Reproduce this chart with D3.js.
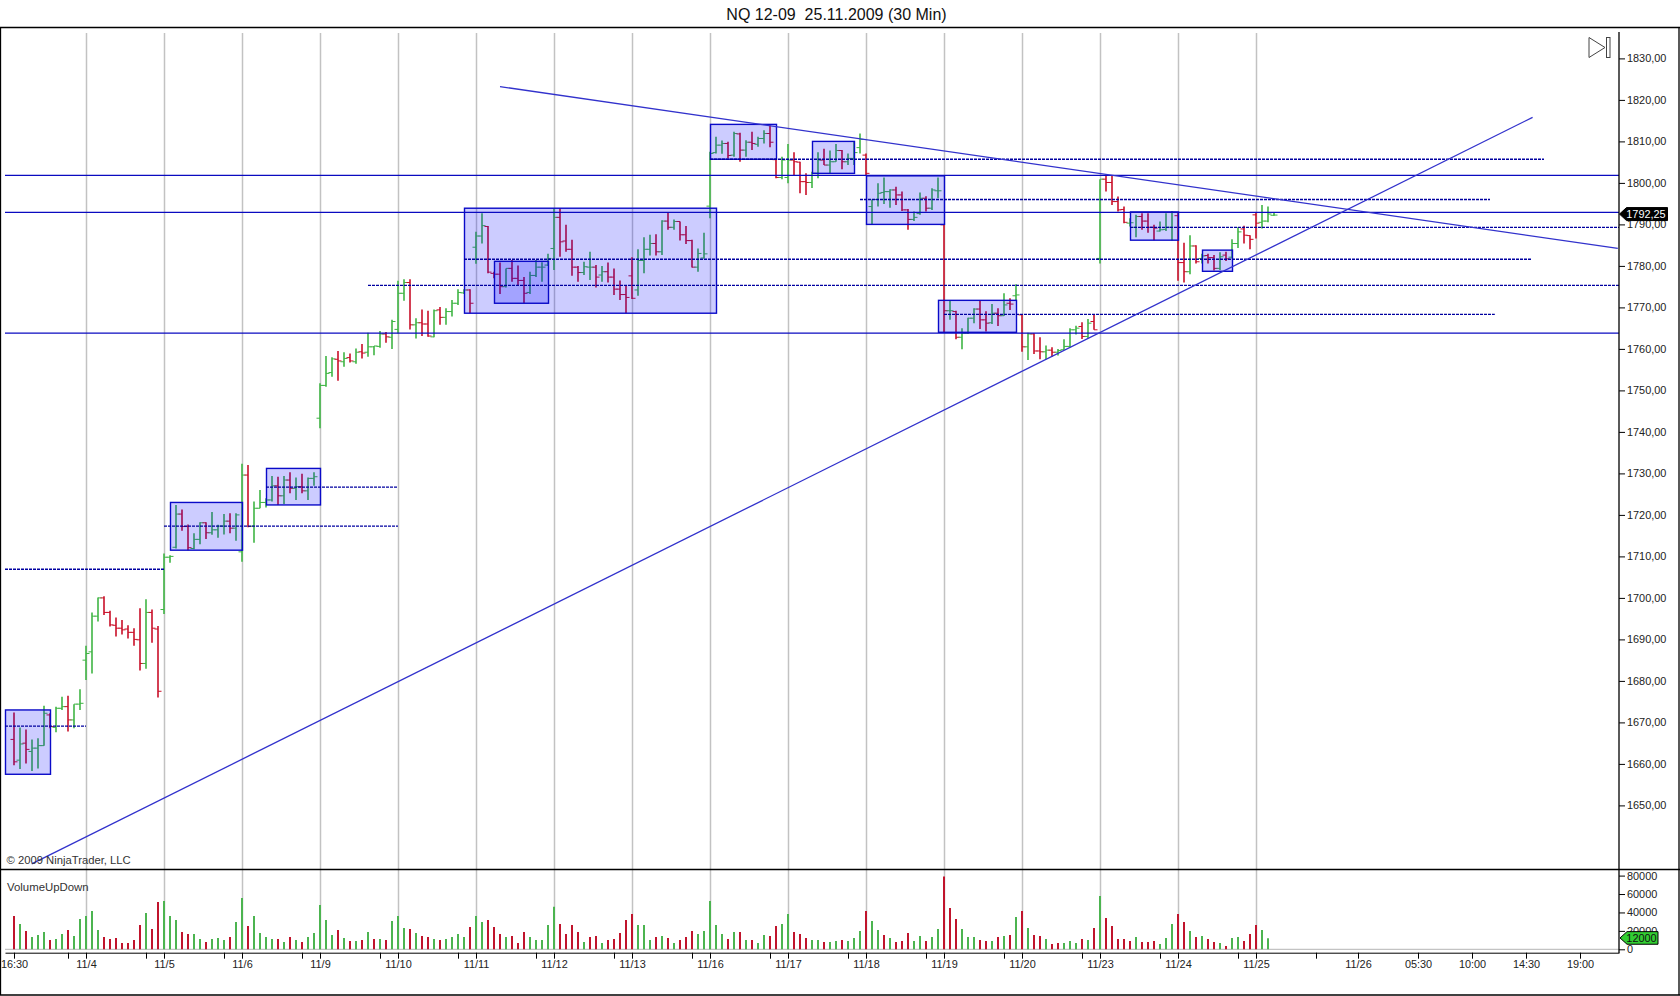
<!DOCTYPE html>
<html><head><meta charset="utf-8">
<script src="https://cdnjs.cloudflare.com/ajax/libs/d3/7.8.5/d3.min.js"></script>
<style>
html,body{margin:0;padding:0;background:#fff;overflow:hidden}
svg{display:block}
text{font-family:"Liberation Sans",Arial,sans-serif;fill:#222}
</style></head><body><div id="c"></div>
<script>
const title = "NQ 12-09  25.11.2009 (30 Min)";
const opens = [
1665.9,1660.9,1665,1663,1663.8,1664.4,1671.8,1668.8,1673.4,1673.8,1670.6,1674.4,1685,
1687,1695.6,1700,1696.5,1693.4,1692.7,1692.5,1691.7,1689.9,1684.2,1696.5,1692.5,1697.2,
1709.8,1712.2,1720.2,1717.2,1711.9,1714.1,1718.1,1715.7,1716.4,1717.3,1718.5,1716.8,1711.1,
1729.6,1717.3,1721.6,1723,1723.6,1727,1724.6,1728.4,1726.4,1726.8,1725.8,1728.8,1743.3,
1751.2,1754.3,1757.5,1756.9,1757.9,1756.9,1759.3,1759.2,1760.5,1760.6,1763.6,1762.8,1764.7,
1773.4,1776,1765.8,1766.3,1766,1762.9,1769.4,1767.6,1769,1771,1773.5,1774.2,1784.5,
1787.2,1789.5,1778.2,1778,1775,1779.4,1777,1776.5,1773.6,1777.7,1779.7,1780.2,1784.2,
1791.7,1786,1784,1779.7,1778.4,1779.7,1779.7,1777.8,1778.6,1777.3,1774.4,1773.1,1777.6,
1774.2,1781.3,1784,1785.4,1783.4,1790.8,1789.3,1790.7,1787.5,1786.1,1779.7,1781.9,1794.4,
1807.3,1809.1,1809.5,1806.7,1811.8,1807.9,1809.8,1809.3,1810.7,1811.9,1805.6,1801.3,1801.3,
1805.5,1805,1800.3,1800.1,1802.3,1805.5,1804.3,1805.1,1807.8,1805.1,1805.9,1808.5,1806.7,
1794.3,1796,1797.7,1797.9,1798.3,1797.1,1793.5,1791.2,1792.6,1796.3,1793.9,1798.1,1789.9,
1769.2,1769,1762.8,1763.8,1767.4,1769.6,1767,1766.3,1768.6,1768,1771,1772.8,1768.2,
1760.5,1763.6,1759.5,1759.3,1759.7,1759.2,1759.8,1760.6,1764.6,1765.4,1763,1766.6,1781.8,
1800.9,1800.1,1795.5,1793.6,1790.3,1789.3,1791.9,1790.8,1789.3,1788.4,1788.8,1789.3,1792.1,
1780.8,1778.6,1784.8,1781.8,1782.5,1782,1779.4,1782.6,1782.1,1785.4,1788.9,1787.3,1792.3,
1790.5,1790.8,1792.2];
const highs = [
1672.4,1668.8,1668.3,1665.9,1666.2,1674,1672.2,1673.8,1676.2,1676.4,1674.4,1678,1688.5,
1696.5,1700.1,1700.4,1696.9,1695.3,1694.7,1693.4,1692.7,1697.5,1699.7,1697.2,1693.2,1710.7,
1710.3,1722.4,1721.3,1717.7,1715.6,1718.2,1718.2,1720.7,1717.6,1720.2,1720.4,1720.4,1732.3,
1732,1723.2,1726,1724,1729.4,1729.2,1729.4,1730.3,1729,1729.9,1729,1730.3,1751.7,
1758.3,1758,1759.5,1759.2,1758.9,1760.1,1761.2,1763.9,1760.7,1764.3,1764.1,1767,1776.4,
1776.8,1776.8,1767.4,1769.5,1769.2,1769.5,1770.1,1769.8,1771.8,1774.4,1774.4,1774.4,1788.2,
1792.7,1789.6,1778.6,1780.8,1779.4,1781.4,1780.1,1777.3,1778.6,1781.4,1780.9,1782.9,1793.9,
1793.9,1789.9,1786.3,1780,1781,1783.4,1780.2,1780,1780.8,1779.4,1776.5,1775.4,1782.1,
1784,1786.9,1787.5,1787.6,1791,1792.8,1791.2,1790.7,1789.6,1786.3,1784.2,1788,1807.5,
1811.1,1810.2,1809.9,1812.3,1812.1,1810.3,1812.3,1811.1,1812.7,1813.9,1805.9,1806.3,1809.4,
1807.4,1805.1,1802.3,1802.7,1807.4,1808.2,1807.8,1809.4,1807.9,1807.1,1809.9,1811.9,1807.1,
1796,1799.9,1801.3,1798.5,1799.1,1797.9,1793.7,1793.1,1797.7,1796.8,1798.7,1801.3,1789.9,
1771.6,1769.2,1765,1767.5,1769.8,1771.6,1769.1,1770.8,1769.8,1773.4,1772.2,1775.6,1768.3,
1763.9,1763.8,1762.8,1760.8,1760.4,1760,1762.3,1765,1765.6,1766.4,1767.2,1768.3,1800.9,
1801.7,1801.7,1796.7,1794.3,1791.5,1792.3,1792.7,1792.7,1789.9,1790.7,1792.7,1793.2,1792.9,
1785.6,1787.4,1785,1782.9,1782.9,1782.6,1783.3,1783.4,1786.4,1789.3,1789.7,1787.4,1792.8,
1794.7,1794.3,1792.9];
const lows = [
1659.7,1658.8,1660.1,1658.3,1658.9,1664.4,1668.6,1667.6,1673,1667.8,1668.6,1673,1680.2,
1681.8,1694.3,1695.9,1693.1,1690.7,1691.2,1690.2,1688.5,1682.5,1682.9,1689.2,1676,1696.1,
1708.5,1711.9,1716.2,1711.5,1711.7,1712.9,1714.2,1715.2,1714.5,1715.3,1715.6,1713.8,1708.7,
1717,1713.3,1721.6,1721.8,1723.2,1722.4,1722.6,1725.2,1723.6,1725.2,1723.6,1727,1740.9,
1750.9,1753.3,1752.3,1755.7,1756.7,1756.4,1757.7,1758.1,1758.5,1760.3,1761.5,1760,1763.7,
1771.6,1764.7,1762.5,1763.1,1762.9,1762.8,1765.8,1765.8,1767.8,1770.6,1773.2,1768.6,1780.5,
1785.4,1778.2,1777,1773.2,1774.8,1776.2,1775.4,1771,1773.2,1777.3,1776.2,1780,1779,
1782.2,1783.4,1777.6,1776.2,1777.8,1776.6,1774.8,1776.2,1776,1773,1771.8,1768.6,1772,
1772.8,1778.2,1782.5,1782.5,1782.6,1788.7,1788.7,1786.1,1785.3,1779.6,1778.6,1781.8,1791.5,
1807.1,1807,1805.9,1806.3,1805.1,1806.3,1807.9,1808.7,1809.5,1808.6,1801.1,1800.9,1799.9,
1801.7,1797.5,1797.1,1798.8,1801.1,1804.3,1802.3,1805.1,1803.3,1804.3,1804.3,1807.1,1801.9,
1790.1,1794.3,1794.9,1794,1794.7,1793.2,1788.7,1790.8,1792.3,1793.1,1793.5,1796.3,1763.9,
1767,1762.3,1759.9,1763.6,1766.2,1764.8,1764.2,1766,1765.5,1767.9,1769.4,1771.8,1759.3,
1757.3,1758.8,1757.5,1757.5,1758.1,1758.4,1759.8,1760.4,1763.5,1762.4,1762.6,1764.6,1780.6,
1797.9,1794.7,1793.1,1790.3,1789.5,1786.9,1788.7,1788,1786.2,1788.3,1788.4,1786.1,1776.4,
1776,1778,1780.6,1780.6,1780.6,1778.9,1779,1781.2,1781.8,1784.3,1785.4,1784,1786.6,
1789,1790.5,1792.1];
const closes = [
1660.5,1664.8,1663.5,1663.8,1664.4,1672.2,1669,1673.4,1673.8,1670.6,1674.4,1674.6,1686.6,
1695.6,1700,1696.5,1693.5,1692.7,1692.3,1691.7,1690,1684.2,1696.5,1692.7,1677.5,1709.8,
1710,1720.2,1717.2,1712.1,1714.1,1718.1,1715.7,1716.4,1717.3,1718.5,1716.8,1720,1729.6,
1717.2,1721.6,1723,1723.6,1727,1724.6,1728.4,1726.4,1726.8,1725.8,1728.8,1729.2,1751.2,
1754.1,1757.6,1757.1,1757.7,1757.1,1759.2,1759,1760.5,1760.7,1763.6,1762.9,1766.6,1773.4,
1776,1765.8,1766.3,1766,1763.1,1769.2,1767.6,1769,1771,1773.6,1774.2,1771,1787.2,
1789.7,1778.5,1778,1775,1779.4,1777,1776.5,1773.4,1777.7,1779.7,1779.7,1781.8,1791.7,
1785.8,1784,1779.7,1778.4,1779.8,1779.7,1777.3,1778.6,1777.3,1774.4,1773.1,1772.4,1772.2,
1781.3,1784,1785.4,1783.4,1790.8,1789.3,1790.7,1787.5,1786.1,1779.7,1783,1782.9,1807.1,
1809.1,1809.5,1806.6,1811.9,1807.9,1809.8,1809.5,1810.7,1811.9,1809.8,1801.3,1805.5,1805.5,
1805.1,1800.3,1800.1,1802.3,1805.5,1804.3,1805.1,1807.8,1805.1,1805.9,1807.3,1810.5,1802.3,
1796,1797.5,1797.9,1798.3,1797.1,1793.5,1791.2,1791.7,1796.3,1793.9,1798.3,1798.1,1769.2,
1769.2,1762.8,1763.8,1767.4,1769.6,1767,1766.2,1768.6,1768,1770.6,1770.8,1773,1760.5,
1763.6,1759.5,1759.3,1759.7,1759.2,1759.6,1760.6,1764.6,1765,1763,1766.2,1764.6,1800.9,
1800.1,1795.5,1793.5,1790.5,1790.4,1791.9,1790.8,1789.3,1789.1,1788.7,1789.3,1792.9,1780.8,
1778.6,1784.8,1781,1782.4,1782,1779.4,1782.2,1781.7,1785.4,1788.2,1787.4,1786.4,1790.3,
1790.8,1792.5,1792.25];
// volume per bar; negative means a down-volume (red) bar
const volumes = [
-36200,27500,-19900,13400,15600,18800,-10100,11200,16700,-21000,14500,32900,36200,
41600,21000,-13400,-11200,-12300,-6900,-6900,-10100,-26400,39500,-22100,-51400,52500,
36200,31900,-18800,-16700,16700,11200,-8000,11200,12300,10100,-13400,29700,55700,
-25300,36200,17700,13400,11200,-11200,8000,-13400,10100,-8000,13400,17700,48100,
31900,15600,-21000,12300,-9000,9000,-10100,18800,-11200,11200,-10100,30800,36200,
23200,-22100,17700,-14500,-13400,11200,-10100,11200,13400,16700,13400,-24300,36200,
29500,-31900,-24300,-16700,13400,-14500,-6900,-18800,13400,10100,10100,26400,46300,
-27500,-16700,-26400,-18800,8000,-13400,-14500,6900,-10100,-11200,-17700,-31900,-38400,
26400,26400,10100,-13400,14500,-12300,6900,-10100,-13400,-19900,16700,19900,52500,
26400,16700,-11200,18800,-18800,10100,-10100,6900,15600,-14500,-25300,27500,38400,
-18800,-16700,-12300,10100,10100,-8000,8000,9000,-10100,9000,12300,19900,-41600,
30800,21000,-15600,12300,-8000,-9000,-17700,9000,14500,-9000,13400,22100,-78900,
-44900,-32900,22100,13400,13400,-10100,-9000,9000,-13400,14500,-15600,35100,-41600,
23200,-15600,-14500,11200,-5800,-6900,6900,9000,6900,-11200,10100,-23200,57900,
-34000,-25300,-11200,-11200,-9000,13400,-8000,-8000,-9000,5800,12300,27500,-38400,
-29700,19900,-13400,14500,-11200,-8000,6900,-3600,12300,13400,-9000,-16700,-26400,
21000,12000];
const priceTicks = [1830,1820,1810,1800,1790,1780,1770,1760,1750,1740,1730,1720,1710,1700,1690,1680,1670,1660,1650];
const volumeTicks = [80000,60000,40000,20000,0];
const dayBars = [12,25,38,51,64,77,90,103,116,129,142,155,168,181,194,207];
const dayLabels = ["11/4","11/5","11/6","11/9","11/10","11/11","11/12","11/13","11/16","11/17","11/18","11/19","11/20","11/23","11/24","11/25"];
const extraBars = [0,224,234,243,252,261];
const extraLabels = ["16:30","11/26","05:30","10:00","14:30","19:00"];
const minorBars = [9,22,35,48,61,74,87,100,113,126,139,152,165,178,191,204,217];
// drawing objects, in bar number and price
const boxX1 = [-1.5,26,42,75,80,116,133,142,154,186,198];
const boxX2 = [6,38,51,117,89,127,140,155,167,194,203];
const boxTop = [1673,1723,1731.2,1793.9,1781.1,1814.1,1810,1801.7,1771.7,1793,1783.8];
const boxBottom = [1657.5,1711.5,1722.4,1768.6,1771,1805.7,1802.3,1790,1764,1786.2,1778.7];
const solidLevels = [1801.8,1792.9,1763.8];
const dashX1 = [-1.5,-1.5,25,42,59,75,116,141,186,155];
const dashX2 = [25,12,64,64,267.5,253,255,246,267.5,246.8];
const dashLevel = [1706.9,1669.1,1717.3,1726.7,1775.3,1781.6,1805.7,1796,1789.3,1768.3];
const trendX1 = [2.95,81];
const trendP1 = [1635.9,1823.2];
const trendX2 = [253.1,267.3];
const trendP2 = [1815.8,1784.2];
const lastPrice = 1792.25;
const lastVolume = 12000;

const W = 1680, H = 996;
const x = d3.scaleLinear().domain([-1.5,267.5]).range([5,1619]);
const y = d3.scaleLinear().domain([1830,1650]).range([58.4,805.4]);
const v = d3.scaleLinear().domain([0,80000]).range([949.3,875.6]);
const svg = d3.select("#c").append("svg").attr("width",W).attr("height",H);

// title
svg.append("text").attr("x",836.5).attr("y",19.5).attr("text-anchor","middle")
  .attr("font-size",16).attr("xml:space","preserve").style("white-space","pre").style("fill","#111").text(title);

// vertical day grid
svg.append("g").selectAll("line").data(dayBars).join("line")
  .attr("x1",d=>x(d)+.5).attr("x2",d=>x(d)+.5).attr("y1",33).attr("y2",949.5)
  .attr("stroke","#c2c2c2").attr("stroke-width",1.5);

// price bars
const idx = d3.range(opens.length);
const barCol = i => closes[i] >= opens[i] ? "#3fb544" : "#c90f28";
const bars = svg.append("g").selectAll("g").data(idx).join("g").attr("stroke",barCol);
bars.append("line").attr("x1",i=>x(i)).attr("x2",i=>x(i)).attr("y1",i=>y(highs[i])).attr("y2",i=>y(lows[i])).attr("stroke-width",1.6);
bars.append("line").attr("x1",i=>x(i)-3.5).attr("x2",i=>x(i)).attr("y1",i=>y(opens[i])).attr("y2",i=>y(opens[i])).attr("stroke-width",1);
bars.append("line").attr("x1",i=>x(i)).attr("x2",i=>x(i)+3.5).attr("y1",i=>y(closes[i])).attr("y2",i=>y(closes[i])).attr("stroke-width",1);

// boxes
svg.append("g").selectAll("rect").data(d3.range(boxX1.length)).join("rect")
  .attr("x",i=>x(boxX1[i])+.5).attr("width",i=>x(boxX2[i])-x(boxX1[i]))
  .attr("y",i=>y(boxTop[i])).attr("height",i=>y(boxBottom[i])-y(boxTop[i]))
  .attr("fill","#0000ff").attr("fill-opacity",.2).attr("stroke","#0a0ac8").attr("stroke-width",1.4);

// dashed levels
svg.append("g").selectAll("line").data(d3.range(dashLevel.length)).join("line")
  .attr("x1",i=>x(dashX1[i])).attr("x2",i=>x(dashX2[i])).attr("y1",i=>y(dashLevel[i])).attr("y2",i=>y(dashLevel[i]))
  .attr("stroke","#0000a0").attr("stroke-width",1.3).attr("stroke-dasharray","3 1");

// solid levels
svg.append("g").selectAll("line").data(solidLevels).join("line")
  .attr("x1",5).attr("x2",x(267.5)).attr("y1",d=>y(d)).attr("y2",d=>y(d))
  .attr("stroke","#0a0ac0").attr("stroke-width",1.3);

// trend lines
svg.append("g").selectAll("line").data(d3.range(trendX1.length)).join("line")
  .attr("x1",i=>x(trendX1[i])).attr("x2",i=>x(trendX2[i])).attr("y1",i=>y(trendP1[i])).attr("y2",i=>y(trendP2[i]))
  .attr("stroke","#3232cc").attr("stroke-width",1.3);

// volume
svg.append("line").attr("x1",5).attr("x2",x(267.5)).attr("y1",v(0)).attr("y2",v(0)).attr("stroke","#b4b4b4").attr("stroke-width",1);
svg.append("g").selectAll("line").data(volumes.map((d,i)=>[i,d])).join("line")
  .attr("x1",d=>x(d[0])).attr("x2",d=>x(d[0])).attr("y1",d=>v(Math.abs(d[1]))).attr("y2",v(0))
  .attr("stroke",d=>d[1]<0?"#c0142c":"#4cb450").attr("stroke-width",2);

// frame
const black = "#000";
[[0,27.5,W,27.5],[0,869.5,W,869.5],[0,995,W,995],[0.5,27.5,0.5,995],[1679,27.5,1679,995],[x(267.5),32,x(267.5),953]].forEach(p=>{
  svg.append("line").attr("x1",p[0]).attr("y1",p[1]).attr("x2",p[2]).attr("y2",p[3]).attr("stroke",black).attr("stroke-width",1.3);
});

// axes
const fmtP = d => d.toFixed(2).replace(".",",");
const yAxis = svg.append("g").attr("transform",`translate(${x(267.5)},0)`).call(d3.axisRight(y).tickValues(priceTicks).tickFormat(fmtP).tickSize(6).tickPadding(2));
yAxis.select(".domain").remove();
const vAxis = svg.append("g").attr("transform",`translate(${x(267.5)},0)`).call(d3.axisRight(v).tickValues(volumeTicks).tickFormat(d=>String(d)).tickSize(6).tickPadding(2));
vAxis.select(".domain").remove();
const allBars = [...minorBars,...dayBars,...extraBars];
const labelOf = new Map([...dayBars.map((b,i)=>[b,dayLabels[i]]),...extraBars.map((b,i)=>[b,extraLabels[i]])]);
const xAxis = svg.append("g").attr("transform","translate(0,952.7)").call(d3.axisBottom(x).tickValues(allBars).tickFormat(d=>labelOf.get(d)||"").tickSize(6).tickSizeOuter(0).tickPadding(2));
xAxis.select(".domain").attr("stroke",black);
[yAxis,vAxis,xAxis].forEach(a=>{a.attr("font-family",null).attr("font-size",null);a.selectAll("text").attr("font-size",10.9).style("fill","#222");a.selectAll(".tick line").attr("stroke",black);});

// texts
svg.append("text").attr("x",6.5).attr("y",864).attr("font-size",11.25).style("fill","#333").text("© 2009 NinjaTrader, LLC");
svg.append("text").attr("x",7).attr("y",891).attr("font-size",11.4).style("fill","#333").text("VolumeUpDown");

// value markers
function marker(tipY,tipX,right,halfH,fill,stroke,txtCol,label){
  const g=svg.append("g");
  g.append("path").attr("d",`M${tipX},${tipY}L${tipX+7},${tipY-halfH}L${right},${tipY-halfH}L${right},${tipY+halfH}L${tipX+7},${tipY+halfH}Z`)
    .attr("fill",fill).attr("stroke",stroke).attr("stroke-width",1);
  g.append("text").attr("x",tipX+(right-tipX+5)/2).attr("y",tipY+4).attr("text-anchor","middle").attr("font-size",10.9).style("fill",txtCol).text(label);
}
marker(y(lastPrice)-1,1619.5,1667.5,6.5,"#000","#000","#fff",fmtP(lastPrice));
marker(v(lastVolume)-.3,1620,1658,6.3,"#32cd32","#000","#111",String(lastVolume));

// go-to-last icon
svg.append("path").attr("d","M1589,37.5L1589,57.5L1605,47.5Z").attr("fill","#fff").attr("stroke","#444");
svg.append("rect").attr("x",1606.5).attr("y",37.5).attr("width",3.5).attr("height",20).attr("fill","#fff").attr("stroke","#444");

if([opens,highs,lows,closes].some(a=>a.length!==211)||volumes.length!==210) throw new Error("len "+[opens.length,highs.length,lows.length,closes.length,volumes.length]);
</script></body></html>
